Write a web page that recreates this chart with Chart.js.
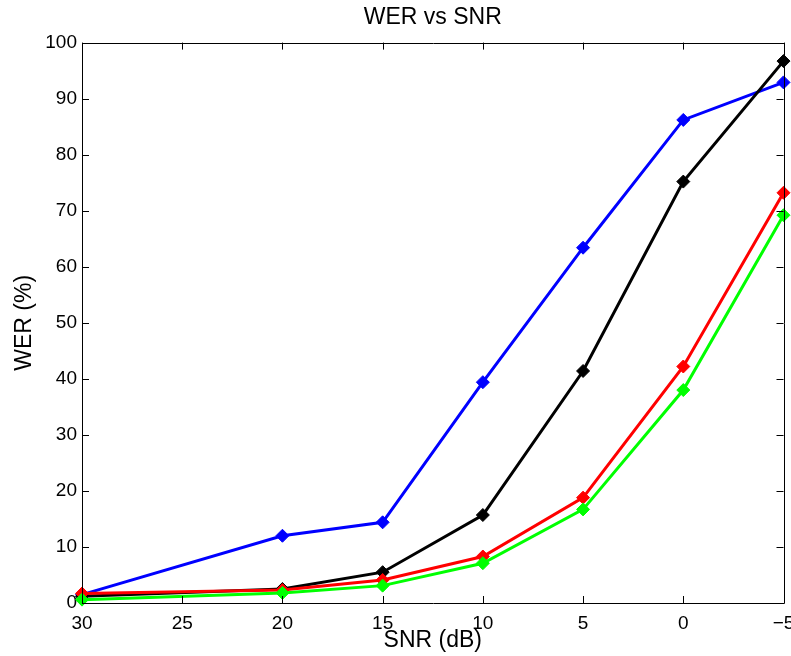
<!DOCTYPE html>
<html>
<head>
<meta charset="utf-8">
<script src="https://cdn.jsdelivr.net/npm/chart.js@4.4.1/dist/chart.umd.min.js"></script>
<style>
  html, body { margin: 0; padding: 0; background: #fff; }
  #wrap { width: 791px; height: 656px; }
</style>
</head>
<body>
<div id="wrap"><canvas id="chartWer" width="791" height="656"></canvas></div>
<script>
// chart data
var snr_values = [30, 20, 15, 10, 5, 0, -5];
var wer_blue = [1.5, 12.0, 14.4, 39.4, 63.4, 86.2, 92.9];
var wer_black = [1.2, 2.5, 5.5, 15.7, 41.4, 75.2, 96.7];
var wer_red = [1.7, 2.3, 4.1, 8.3, 18.8, 42.2, 73.2];
var wer_green = [0.6, 1.8, 3.1, 7.1, 16.7, 38.0, 69.2];

var font_family = "'Liberation Sans', Arial, Helvetica, sans-serif";

// build {x,y} points from snr + wer arrays
function to_points(values){
  var pts = [];
  for (var i = 0; i < snr_values.length; i++){
    pts.push({x: snr_values[i], y: values[i]});
  }
  return pts;
}

function make_dataset(label, values, color){
  return {
    label: label,
    data: to_points(values),
    borderColor: color,
    backgroundColor: color,
    borderWidth: 3,
    pointStyle: 'rectRot',
    pointRadius: 6.5,
    pointBorderWidth: 1,
    pointBackgroundColor: color,
    pointBorderColor: color,
    tension: 0,
    clip: false
  };
}

// matlab style box with inward ticks on all four sides
var matlabBox = {
  id: 'matlabBox',
  afterDraw: function(chart){
    var ctx = chart.ctx;
    var a = chart.chartArea;
    var xs = chart.scales.x;
    var ys = chart.scales.y;
    var tl = 7;
    ctx.save();
    ctx.strokeStyle = '#000';
    ctx.lineWidth = 1;
    ctx.beginPath();
    ctx.rect(Math.round(a.left) + 0.5, Math.round(a.top) + 0.5, Math.round(a.right - a.left), Math.round(a.bottom - a.top));
    xs.ticks.forEach(function(t){
      var px = Math.round(xs.getPixelForValue(t.value)) + 0.5;
      ctx.moveTo(px, a.bottom);
      ctx.lineTo(px, a.bottom - tl);
      ctx.moveTo(px, a.top);
      ctx.lineTo(px, a.top + tl);
    });
    ys.ticks.forEach(function(t){
      var py = Math.round(ys.getPixelForValue(t.value)) + 0.5;
      ctx.moveTo(a.left, py);
      ctx.lineTo(a.left + tl, py);
      ctx.moveTo(a.right, py);
      ctx.lineTo(a.right - tl, py);
    });
    ctx.stroke();
    ctx.restore();
  }
};

function init_werChart(){
  var ctx = document.getElementById('chartWer');
  return new Chart(ctx, {
    type: 'line',
    data: {
      datasets: [
        make_dataset('green', wer_green, '#00ff00'),
        make_dataset('red', wer_red, '#ff0000'),
        make_dataset('black', wer_black, '#000000'),
        make_dataset('blue', wer_blue, '#0000ff')
      ]
    },
    options: {
      responsive: false,
      animation: false,
      layout: { padding: { left: 0, right: 6, top: 0, bottom: 0 } },
      plugins: {
        legend: { display: false },
        tooltip: { enabled: false },
        title: {
          display: true,
          fullSize: false,
          text: 'WER vs SNR',
          color: '#000',
          font: { family: font_family, size: 23, weight: 'normal' },
          padding: { top: 4, bottom: 11 }
        }
      },
      scales: {
        x: {
          type: 'linear',
          reverse: true,
          min: -5,
          max: 30,
          afterFit: function(scale){
            // keep the plot box edge to edge, like matlab
            scale.height = 53;
            scale.paddingLeft = 0;
            scale.paddingRight = 0;
          },
          border: { display: false },
          grid: { display: false, drawTicks: false },
          ticks: {
            stepSize: 5,
            padding: 9,
            color: '#000',
            maxRotation: 0,
            font: { family: font_family, size: 19 },
            callback: function(v){ return v < 0 ? '\u2212' + (-v) : '' + v; }
          },
          title: {
            display: true,
            text: 'SNR (dB)',
            color: '#000',
            font: { family: font_family, size: 23 },
            padding: { top: 0, bottom: 2 }
          }
        },
        y: {
          min: 0,
          max: 100,
          afterFit: function(scale){ scale.width = 82; },
          border: { display: false },
          grid: { display: false, drawTicks: false },
          ticks: {
            stepSize: 10,
            padding: 5,
            color: '#000',
            font: { family: font_family, size: 19 }
          },
          title: {
            display: true,
            text: 'WER (%)',
            color: '#000',
            font: { family: font_family, size: 23 },
            padding: { top: 11, bottom: 0 }
          }
        }
      }
    },
    plugins: [matlabBox]
  });
}

var werChartObj = init_werChart();
</script>
</body>
</html>
